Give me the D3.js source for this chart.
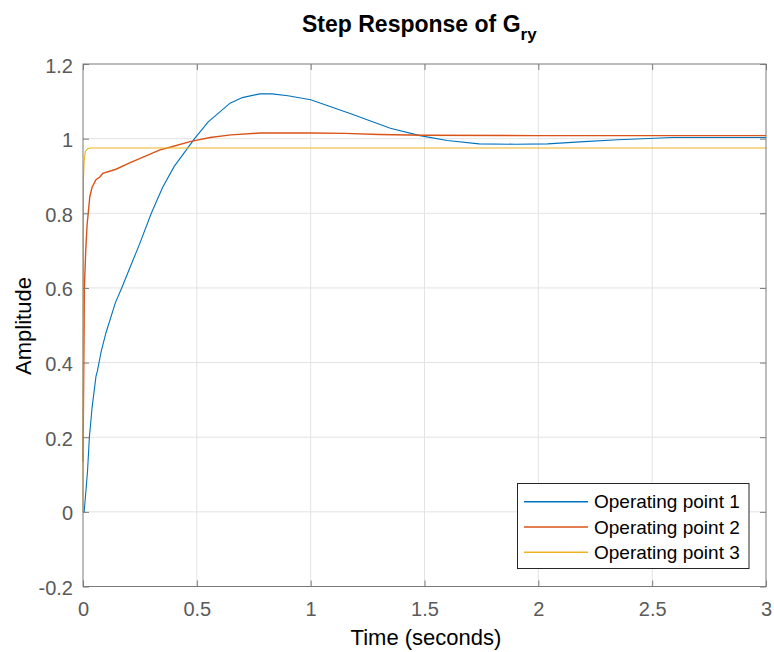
<!DOCTYPE html>
<html><head><meta charset="utf-8">
<script src="https://cdn.jsdelivr.net/npm/d3@7"></script>
<style>body{margin:0;background:#fff;} text{font-family:"Liberation Sans",Arial,Helvetica,sans-serif;}</style>
</head><body>
<svg id="c" width="774" height="652"></svg>
<script>
const xTicks = [0, 0.5, 1, 1.5, 2, 2.5, 3];
const yTicks = [-0.2, 0, 0.2, 0.4, 0.6, 0.8, 1, 1.2];
const seriesNames = ["Operating point 1", "Operating point 2", "Operating point 3"];
const colors = ["#0072BD", "#D95319", "#EDB120"];

const t1 = [0, 0.005, 0.012, 0.02, 0.028, 0.04, 0.057, 0.064, 0.08, 0.101, 0.142, 0.17, 0.21, 0.25, 0.30, 0.35, 0.40, 0.49, 0.55, 0.646, 0.70, 0.777, 0.83, 0.90, 1.0, 1.17, 1.35, 1.48, 1.6, 1.74, 1.9, 2.04, 2.2, 2.35, 2.59, 2.8, 3.0];
const y1 = [0, 0, 0.05, 0.11, 0.2, 0.28, 0.363, 0.38, 0.43, 0.48, 0.56, 0.6, 0.66, 0.72, 0.80, 0.87, 0.925, 1.0, 1.045, 1.095, 1.11, 1.12, 1.12, 1.115, 1.104, 1.068, 1.028, 1.008, 0.995, 0.986, 0.985, 0.986, 0.992, 0.997, 1.003, 1.003, 1.003];

const t2 = [0, 0.004, 0.006, 0.012, 0.018, 0.023, 0.03, 0.04, 0.057, 0.075, 0.087, 0.145, 0.2, 0.338, 0.37, 0.47, 0.558, 0.65, 0.777, 1.0, 1.15, 1.3, 1.5, 2.0, 3.0];
const y2 = [0.135, 0.43, 0.6, 0.7, 0.77, 0.8, 0.845, 0.87, 0.89, 0.898, 0.907, 0.918, 0.934, 0.970, 0.975, 0.992, 1.003, 1.01, 1.015, 1.015, 1.014, 1.011, 1.009, 1.008, 1.008];

const t3 = [0, 0.002, 0.005, 0.01, 0.02, 0.03, 3.0];
const y3 = [0, 0.89, 0.94, 0.965, 0.973, 0.975, 0.975];

const svg = d3.select("#c");
const L = 83, R = 766, T = 64, B = 586.5;
const x = d3.scaleLinear().domain([0, 3]).range([L, R]);
const y = d3.scaleLinear().domain([-0.2, 1.2]).range([B, T]);

// grid
svg.append("g").selectAll("line").data(xTicks.slice(1, -1)).join("line")
  .attr("x1", d => x(d)).attr("x2", d => x(d)).attr("y1", T).attr("y2", B)
  .attr("stroke", "#e3e3e3").attr("stroke-width", 1);
svg.append("g").selectAll("line").data(yTicks.slice(1, -1)).join("line")
  .attr("y1", d => y(d)).attr("y2", d => y(d)).attr("x1", L).attr("x2", R)
  .attr("stroke", "#e3e3e3").attr("stroke-width", 1);

// data lines
const line = d3.line().x(d => x(d[0])).y(d => y(d[1]));
const data = [d3.zip(t1, y1), d3.zip(t2, y2), d3.zip(t3, y3)];
const widths = [1.1, 1.4, 1.1];
data.forEach((d, i) => {
  svg.append("path").datum(d).attr("d", line).attr("fill", "none")
    .attr("stroke", colors[i]).attr("stroke-width", widths[i]);
});

// axes (MATLAB-style, ticks inside)
const axCol = "#7a7a7a", lblCol = "#5a5a5a";
const tickFmt = d => d3.format("")(d).replace("\u2212", "-");
svg.append("g").attr("transform", `translate(0,${B})`)
  .call(d3.axisBottom(x).tickValues(xTicks).tickSize(-6).tickPadding(15).tickFormat(tickFmt))
  .call(g => g.select(".domain").remove());
svg.append("g").attr("transform", `translate(0,${T})`)
  .call(d3.axisTop(x).tickValues(xTicks).tickSize(-6).tickFormat(""))
  .call(g => g.select(".domain").remove());
const gy = svg.append("g").attr("transform", `translate(${L},0)`)
  .call(d3.axisLeft(y).tickValues(yTicks).tickSize(-6).tickPadding(10).tickFormat(tickFmt))
  .call(g => g.select(".domain").remove());
gy.selectAll(".tick text").attr("dy", "0.4em");
svg.append("g").attr("transform", `translate(${R},0)`)
  .call(d3.axisRight(y).tickValues(yTicks).tickSize(-6).tickFormat(""))
  .call(g => g.select(".domain").remove());
svg.selectAll(".tick line").attr("stroke", axCol);
svg.selectAll(".tick text").attr("fill", lblCol).attr("font-size", 20)
  .style("font-family", "'Liberation Sans', Arial, sans-serif");
svg.append("rect").attr("x", L).attr("y", T).attr("width", R - L).attr("height", B - T)
  .attr("fill", "none").attr("stroke", axCol).attr("stroke-width", 1);

// title
const title = svg.append("text").attr("x", 302).attr("y", 32).attr("text-anchor", "start")
  .attr("font-size", 23).attr("font-weight", "bold").attr("fill", "#000");
title.append("tspan").text("Step Response of G");
title.append("tspan").attr("dy", 8).attr("font-size", 17).text("ry");

// axis labels
svg.append("text").attr("x", 426).attr("y", 645).attr("text-anchor", "middle")
  .attr("font-size", 22).attr("fill", "#000").text("Time (seconds)");
svg.append("text").attr("transform", "translate(31,326) rotate(-90)").attr("text-anchor", "middle")
  .attr("font-size", 22).attr("fill", "#000").text("Amplitude");

// legend
const lg = svg.append("g");
lg.append("rect").attr("x", 517.5).attr("y", 483.5).attr("width", 231.5).attr("height", 85)
  .attr("fill", "#fff").attr("stroke", "#262626").attr("stroke-width", 1);
seriesNames.forEach((n, i) => {
  const cy = 501.7 + i * 25.3;
  lg.append("line").attr("x1", 524).attr("x2", 588).attr("y1", cy).attr("y2", cy)
    .attr("stroke", colors[i]).attr("stroke-width", widths[i] + 0.3);
  lg.append("text").attr("x", 594).attr("y", cy).attr("dy", "0.35em")
    .attr("font-size", 19).attr("fill", "#000").text(n);
});
</script>
</body></html>
